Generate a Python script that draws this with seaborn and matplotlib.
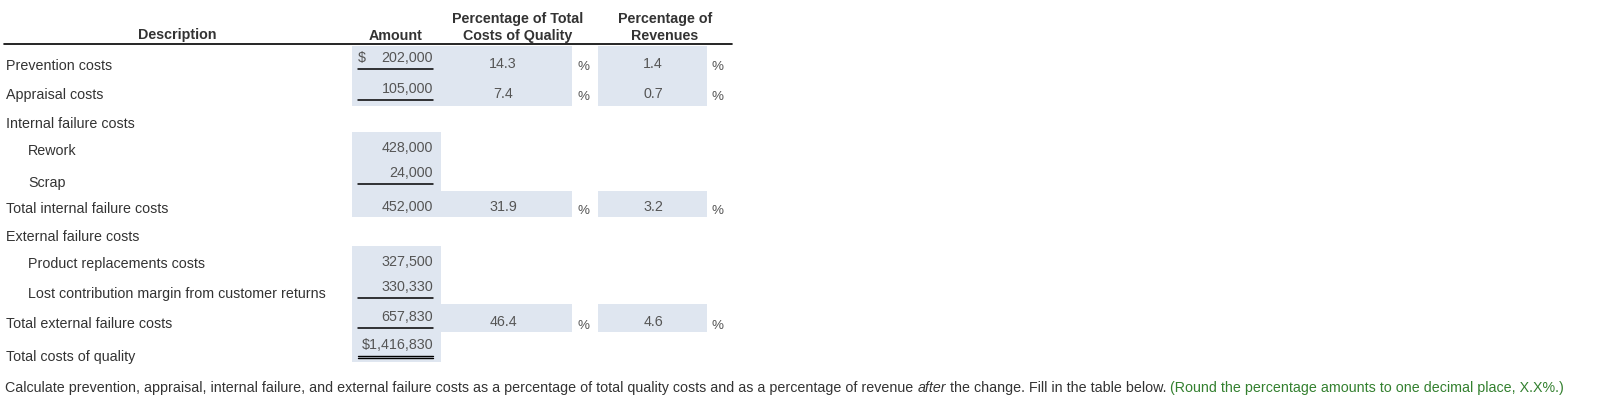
import matplotlib
matplotlib.use("Agg")
import matplotlib.pyplot as plt
from matplotlib.patches import Rectangle
import seaborn as sns

# DATA
labels = ["Prevention costs", "Appraisal costs", "Internal failure costs", "Rework", "Scrap",
          "Total internal failure costs", "External failure costs", "Product replacements costs",
          "Lost contribution margin from customer returns", "Total external failure costs",
          "Total costs of quality"]
indent = [0, 0, 0, 1, 1, 0, 0, 1, 1, 0, 0]
amounts = [202000, 105000, None, 428000, 24000, 452000, None, 327500, 330330, 657830, 1416830]
dollar = ["spaced", "", "", "", "", "", "", "", "", "", "tight"]
underline = ["single", "single", "", "", "single", "", "", "", "single", "single", "double"]
pct_total = [14.3, 7.4, None, None, None, 31.9, None, None, None, 46.4, None]
pct_revenue = [1.4, 0.7, None, None, None, 3.2, None, None, None, 4.6, None]

headers = ["Description", "Amount", "Percentage of Total\nCosts of Quality", "Percentage of\nRevenues"]

# LAYOUT (pixels)
row_y = [64, 94, 123, 150, 182, 208, 236, 263, 293, 323, 356]
amt_base = [62, 93, None, 152, 177, 211, None, 266, 291, 321, 349]
ul_y = [69.5, 100.5, None, None, 184.5, None, None, None, 298.5, 328.5, 356.5]
# shaded bands: (top, bottom, wide)
bands = {0: (47, 77, True), 1: (77, 107, True), 3: (133, 163, False), 4: (163, 192, False),
         5: (192, 218, True), 7: (247, 276, False), 8: (276, 305, False), 9: (305, 333, True),
         10: (333, 363, False)}

FILL = "#dfe6f0"
TXT = "#333333"
NUM = "#555555"
GREEN = "#33802f"
DY = 1.5  # text nudge

sns.set_theme(style="white")
plt.rcParams["font.family"] = ["Liberation Sans", "DejaVu Sans"]

fig = plt.figure(figsize=(16.03, 4.02), dpi=100)
ax = fig.add_axes([0, 0, 1, 1])
ax.set_xlim(0, 1603)
ax.set_ylim(402, 0)
ax.axis("off")

fs = 10.25

# headers
ax.text(177, 34 + DY, headers[0], ha="center", va="center", fontsize=fs, fontweight="bold", color=TXT)
ax.text(396, 34 + DY, headers[1], ha="center", va="center", fontsize=fs, fontweight="bold", color=TXT)
ax.text(518, 26 + DY, headers[2], ha="center", va="center", fontsize=fs, fontweight="bold", color=TXT,
        linespacing=1.25)
ax.text(665, 26 + DY, headers[3], ha="center", va="center", fontsize=fs, fontweight="bold", color=TXT,
        linespacing=1.25)
ax.plot([4, 732], [45, 45], color="black", lw=1.2)

for i, lab in enumerate(labels):
    if i in bands:
        top, bot, wide = bands[i]
        ax.add_patch(Rectangle((352, top), 89, bot - top, color=FILL, lw=0, zorder=0))
        if wide:
            ax.add_patch(Rectangle((441, top), 131, bot - top, color=FILL, lw=0, zorder=0))
            ax.add_patch(Rectangle((598, top), 109, bot - top, color=FILL, lw=0, zorder=0))

    x0 = 6 + 22 * indent[i]
    ax.text(x0, row_y[i] + DY, lab, ha="left", va="center", fontsize=fs, color=TXT)

    if amounts[i] is not None:
        s = f"{amounts[i]:,}"
        if dollar[i] == "tight":
            s = "$" + s
        elif dollar[i] == "spaced":
            ax.text(358, amt_base[i], "$", ha="left", va="baseline", fontsize=fs, color=NUM)
        ax.text(433, amt_base[i], s, ha="right", va="baseline", fontsize=fs, color=NUM)

    if underline[i] == "single":
        ax.plot([358, 433], [ul_y[i], ul_y[i]], color="black", lw=1.1)
    elif underline[i] == "double":
        ax.plot([358, 433], [ul_y[i], ul_y[i]], color="black", lw=1.0)
        ax.plot([358, 433], [ul_y[i] + 2.6, ul_y[i] + 2.6], color="black", lw=1.0)

    if pct_total[i] is not None:
        py = row_y[i] - 2 + DY
        ax.text(503, py, f"{pct_total[i]:.1f}", ha="center", va="center", fontsize=fs, color=NUM)
        ax.text(583, py + 4, "%", ha="center", va="center", fontsize=fs - 0.6, color=NUM)
    if pct_revenue[i] is not None:
        py = row_y[i] - 2 + DY
        ax.text(653, py, f"{pct_revenue[i]:.1f}", ha="center", va="center", fontsize=fs, color=NUM)
        ax.text(717, py + 4, "%", ha="center", va="center", fontsize=fs - 0.6, color=NUM)

# instruction line, built from pieces
pieces = [
    ("Calculate prevention, appraisal, internal failure, and external failure costs as a percentage of "
     "total quality costs and as a percentage of revenue ", "normal", TXT),
    ("after", "italic", TXT),
    (" the change. Fill in the table below. ", "normal", TXT),
    ("(Round the percentage amounts to one decimal place, X.X%.)", "normal", GREEN),
]
fig.canvas.draw()
r = fig.canvas.get_renderer()
x = 5
for txt, style, col in pieces:
    t = ax.text(x, 387 + DY, txt, ha="left", va="center", fontsize=fs, style=style, color=col)
    bb = t.get_window_extent(renderer=r)
    x += bb.width

fig.savefig("out.png", dpi=100)
